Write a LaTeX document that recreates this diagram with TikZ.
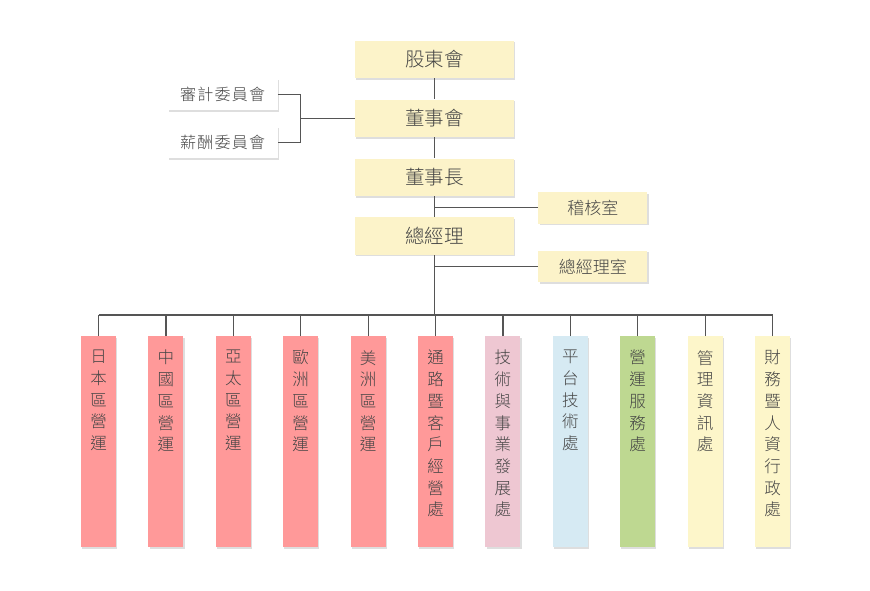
\documentclass[tikz,border=0pt]{standalone}
\usepackage{fontspec}
\setmainfont{Noto Sans CJK TC Light}
\usetikzlibrary{positioning,shadows}
\definecolor{boxyellow}{RGB}{252,243,201}
\definecolor{unitred}{RGB}{255,153,153}
\definecolor{unitpink}{RGB}{238,199,210}
\definecolor{unitblue}{RGB}{214,234,243}
\definecolor{unitgreen}{RGB}{190,216,145}
\definecolor{unityellow}{RGB}{253,246,202}
\definecolor{linegray}{RGB}{85,85,85}
\definecolor{textgray}{RGB}{68,68,68}
\tikzset{
    % Define standard node styles
    softshadow/.style={
        drop shadow={shadow xshift=1.2pt, shadow yshift=-1.5pt,
        fill=black, opacity=0.13}
    },
    mainbox/.style={
        rectangle, draw=none, fill=boxyellow,
        minimum width=159pt, minimum height=37.5pt,
        font=\fontsize{19.5}{21}\selectfont, text=textgray, softshadow
    },
    sidebox/.style={
        rectangle, draw=none, fill=white,
        minimum width=110pt, minimum height=32pt,
        font=\fontsize{16}{18}\selectfont\addfontfeature{LetterSpace=8}, text=textgray, softshadow
    },
    officebox/.style={
        rectangle, draw=none, fill=boxyellow,
        minimum width=109pt, minimum height=31.5pt,
        font=\fontsize{17}{18}\selectfont, text=textgray, softshadow
    },
    unitbox/.style={
        rectangle, draw=none, minimum width=35pt, minimum height=211pt,
        inner sep=0pt, softshadow
    },
    unitlabel/.style={
        anchor=north, align=center, inner sep=0pt, yshift=-14pt,
        font=\fontsize{16.5}{21.7}\selectfont, text=textgray
    },
    link/.style={
        draw=linegray, line width=1.2pt
    }
}
\begin{document}
\begin{tikzpicture}[x=1pt, y=-1pt, node distance=21pt and 32pt]

\useasboundingbox (0,0) rectangle (870,590);

% Main chain
\node[mainbox] (gudonghui) at (434.5,59.5) {股東會};
\node[mainbox, below=of gudonghui] (dongshihui) {董事會};
\node[mainbox, below=of dongshihui] (dongshizhang) {董事長};
\node[mainbox, below=of dongshizhang] (zongjingli) {總經理};

% Committees
\node[sidebox, left=77pt of dongshihui.west, yshift=24pt] (shenji) {審計委員會};
\node[sidebox, left=77pt of dongshihui.west, yshift=-24pt] (xinchou) {薪酬委員會};
\coordinate[left=54pt of dongshihui.west] (bracket);

% Offices
\node[officebox, right=24pt of dongshizhang.east, yshift=-30.5pt] (jihe) {稽核室};
\node[officebox, right=24pt of zongjingli.east, yshift=-30.5pt] (zjlshi) {總經理室};

% Business units
\node[unitbox, fill=unitred, anchor=north, label={[unitlabel]north:日\\本\\區\\營\\運}] (japan) at (98.5,336) {};
\node[unitbox, fill=unitred, right=of japan, label={[unitlabel]north:中\\國\\區\\營\\運}] (china) {};
\node[unitbox, fill=unitred, right=of china, label={[unitlabel]north:亞\\太\\區\\營\\運}] (apac) {};
\node[unitbox, fill=unitred, right=of apac, label={[unitlabel]north:歐\\洲\\區\\營\\運}] (europe) {};
\node[unitbox, fill=unitred, right=of europe, label={[unitlabel]north:美\\洲\\區\\營\\運}] (america) {};
\node[unitbox, fill=unitred, right=of america, label={[unitlabel]north:通\\路\\暨\\客\\戶\\經\\營\\處}] (channel) {};
\node[unitbox, fill=unitpink, right=of channel, label={[unitlabel]north:技\\術\\與\\事\\業\\發\\展\\處}] (techbiz) {};
\node[unitbox, fill=unitblue, right=of techbiz, label={[unitlabel]north:平\\台\\技\\術\\處}] (platform) {};
\node[unitbox, fill=unitgreen, right=of platform, label={[unitlabel]north:營\\運\\服\\務\\處}] (service) {};
\node[unitbox, fill=unityellow, right=of service, label={[unitlabel]north:管\\理\\資\\訊\\處}] (mis) {};
\node[unitbox, fill=unityellow, right=of mis, label={[unitlabel]north:財\\務\\暨\\人\\資\\行\\政\\處}] (finance) {};

\coordinate (bus) at (434.5,315);

% Connectors
\draw[link] (gudonghui) -- (dongshihui);
\draw[link] (dongshihui) -- (dongshizhang);
\draw[link] (dongshizhang) -- (zongjingli);
\draw[link] (zongjingli) -- (bus);
\draw[link] (shenji.east) -| (bracket) |- (xinchou.east);
\draw[link] (bracket) -- (dongshihui.west);
\draw[link] (dongshizhang.south |- jihe.west) -- (jihe.west);
\draw[link] (zongjingli.south |- zjlshi.west) -- (zjlshi.west);
\draw[link] (japan.north |- bus) -- (finance.north |- bus);
\foreach \unit in {japan,china,apac,europe,america,channel,techbiz,platform,service,mis,finance}
    \draw[link] (\unit.north) -- (\unit.north |- bus);

\end{tikzpicture}
\end{document}
